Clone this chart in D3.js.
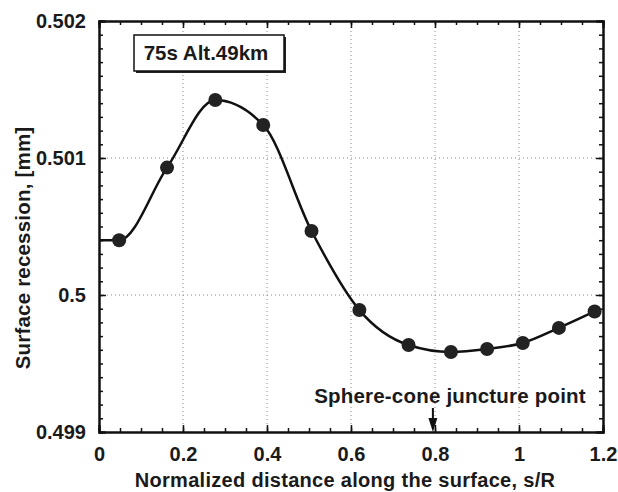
<!DOCTYPE html>
<html>
<head>
<meta charset="utf-8">
<script src="https://cdn.jsdelivr.net/npm/d3@7"></script>
<style>
  body { margin: 0; background: #fff; }
  text { font-family: "Liberation Sans", Arial, sans-serif; font-weight: bold; fill: #1a1a1a; }
</style>
</head>
<body>
<div id="here"></div>
<script>
// DATA
const sR = [0.048, 0.162, 0.277, 0.391, 0.506, 0.62, 0.737, 0.838, 0.924, 1.009, 1.095, 1.18];
const recession = [0.50040, 0.50093, 0.501423, 0.501241, 0.500467, 0.49989, 0.499635, 0.499584, 0.499606, 0.49965, 0.49976, 0.49988];
const curveStart = [0, 0.50040];
const xTicks = [0, 0.2, 0.4, 0.6, 0.8, 1, 1.2];
const yTicks = [0.499, 0.5, 0.501, 0.502];
const juncture = 0.795;
const caseLabel = "75s Alt.49km";

const width = 618, height = 492;
const margin = { top: 21, right: 15, bottom: 60, left: 99 };

const svg = d3.select("#here").append("svg")
  .attr("width", width)
  .attr("height", height);

const x = d3.scaleLinear().domain([0, 1.2]).range([margin.left, width - margin.right]);
const y = d3.scaleLinear().domain([0.499, 0.502]).range([height - margin.bottom, margin.top]);

// grid
svg.append("g").selectAll("line").data(xTicks.filter(d => d > 0 && d < 1.2)).join("line")
  .attr("x1", d => x(d)).attr("x2", d => x(d))
  .attr("y1", y(0.499)).attr("y2", y(0.502))
  .attr("stroke", "#888").attr("stroke-width", 1).attr("stroke-dasharray", "1,3");
svg.append("g").selectAll("line").data(yTicks.filter(d => d > 0.499 && d < 0.502)).join("line")
  .attr("x1", x(0)).attr("x2", x(1.2))
  .attr("y1", d => y(d)).attr("y2", d => y(d))
  .attr("stroke", "#888").attr("stroke-width", 1).attr("stroke-dasharray", "1,3");

// axes, ticks inward on all sides
function tickFmt(d) { return d3.format("")(+d.toFixed(3)); }
const xMinor = d3.range(0, 1.2001, 0.05);
const yMinor = d3.range(0.499, 0.50201, 0.0001);

const axB = svg.append("g").attr("transform", `translate(0,${y(0.499)})`);
axB.call(d3.axisBottom(x).tickValues(xMinor).tickSize(-4).tickFormat(""));
axB.call(g => g.append("g").call(d3.axisBottom(x).tickValues(xTicks).tickSize(-7).tickPadding(15).tickFormat(tickFmt)));
const axT = svg.append("g").attr("transform", `translate(0,${y(0.502)})`);
axT.call(d3.axisTop(x).tickValues(xMinor).tickSize(-4).tickFormat(""));
axT.call(g => g.append("g").call(d3.axisTop(x).tickValues(xTicks).tickSize(-7).tickFormat("")));
const axL = svg.append("g").attr("transform", `translate(${x(0)},0)`);
axL.call(d3.axisLeft(y).tickValues(yMinor).tickSize(-4).tickFormat(""));
axL.call(g => g.append("g").call(d3.axisLeft(y).tickValues(yTicks).tickSize(-7).tickPadding(13).tickFormat(tickFmt)));
const axR = svg.append("g").attr("transform", `translate(${x(1.2)},0)`);
axR.call(d3.axisRight(y).tickValues(yMinor).tickSize(-4).tickFormat(""));
axR.call(g => g.append("g").call(d3.axisRight(y).tickValues(yTicks).tickSize(-7).tickFormat("")));

svg.selectAll(".domain").attr("stroke", "#111").attr("stroke-width", 2);
svg.selectAll(".tick line").attr("stroke", "#111").attr("stroke-width", 1.5);
svg.selectAll(".tick text").style("font-size", "20px").attr("fill", "#1a1a1a");

// curve
const pts = [curveStart].concat(sR.map((d, i) => [d, recession[i]]));
svg.append("path").datum(pts)
  .attr("fill", "none").attr("stroke", "#111").attr("stroke-width", 2.5)
  .attr("d", d3.line().x(d => x(d[0])).y(d => y(d[1])).curve(d3.curveMonotoneX));

svg.append("g").selectAll("circle").data(sR).join("circle")
  .attr("cx", d => x(d))
  .attr("cy", (d, i) => y(recession[i]))
  .attr("r", 7)
  .attr("fill", "#222");

// label box
const bx = 134, by = 35, bw = 150, bh = 36;
svg.append("rect").attr("x", bx + 2).attr("y", by + 2).attr("width", bw).attr("height", bh).attr("fill", "#222");
svg.append("rect").attr("x", bx).attr("y", by).attr("width", bw).attr("height", bh)
  .attr("fill", "#fff").attr("stroke", "#111").attr("stroke-width", 1.5);
svg.append("text").attr("x", bx + bw / 2 - 3).attr("y", by + bh / 2 + 7)
  .attr("text-anchor", "middle").style("font-size", "20.5px").text(caseLabel);

// juncture annotation
svg.append("text").attr("x", 450).attr("y", 403)
  .attr("text-anchor", "middle").style("font-size", "20.5px").style("letter-spacing", "0.2px")
  .text("Sphere-cone juncture point");
svg.append("line").attr("x1", x(juncture)).attr("x2", x(juncture))
  .attr("y1", 408).attr("y2", 420).attr("stroke", "#111").attr("stroke-width", 2);
svg.append("path")
  .attr("d", `M${x(juncture) - 4.5},418 L${x(juncture) + 4.5},418 L${x(juncture)},${y(0.499)} Z`)
  .attr("fill", "#111");

// axis titles
svg.append("text").attr("x", 345).attr("y", 487)
  .attr("text-anchor", "middle").style("font-size", "20px").style("letter-spacing", "0.3px")
  .text("Normalized distance along the surface, s/R");
svg.append("text").attr("transform", `translate(30,248) rotate(-90)`)
  .attr("text-anchor", "middle").style("font-size", "20.5px").style("letter-spacing", "0.2px")
  .text("Surface recession, [mm]");
</script>
</body>
</html>
